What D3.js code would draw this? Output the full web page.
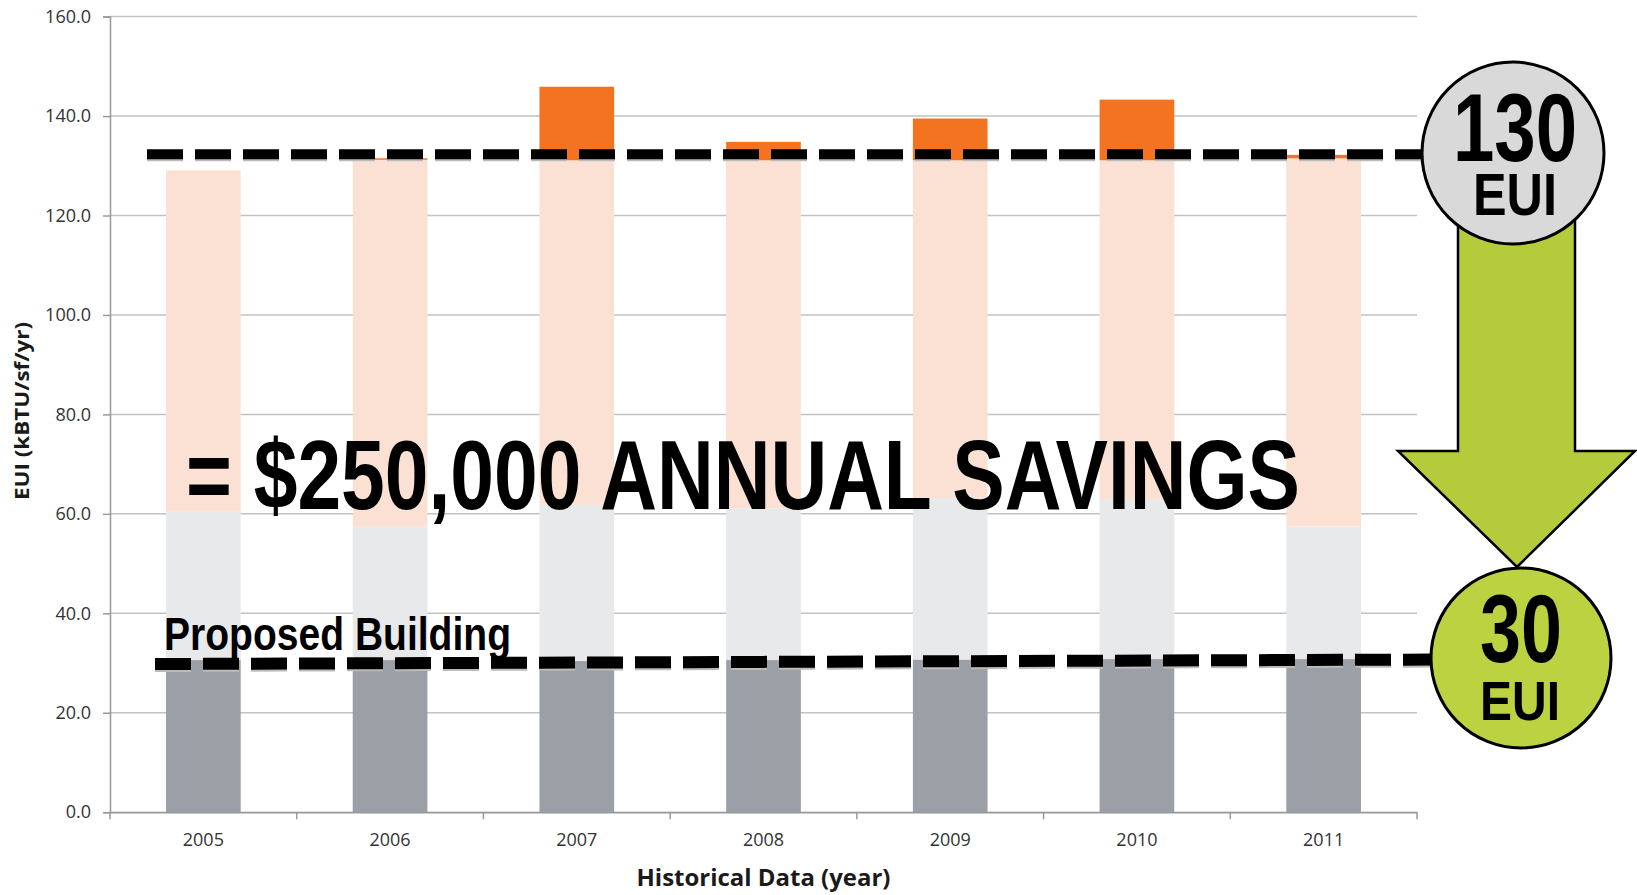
<!DOCTYPE html>
<html>
<head>
<meta charset="utf-8">
<script src="https://cdn.jsdelivr.net/npm/d3@7"></script>
<style>
  html, body { margin: 0; padding: 0; background: #fff; }
  svg { display: block; }
</style>
</head>
<body>
<div id="chart"></div>
<script>
// chart values (EUI, kBTU/sf/yr)
var years = ["2005", "2006", "2007", "2008", "2009", "2010", "2011"];
var baseLoad = [30.6, 30.6, 30.4, 30.6, 30.7, 30.8, 30.8];
var seasonal = [29.8, 26.8, 31.4, 30.5, 32.5, 32.2, 26.7];
var bulk = [68.7, 73.8, 69.3, 70.0, 67.9, 68.1, 74.0];
var overTarget = [0.0, 0.3, 14.8, 3.7, 8.4, 12.2, 0.7];
var yTicks = [0, 20, 40, 60, 80, 100, 120, 140, 160];

// annotation levels
var currentLine = [132.3, 132.3];
var proposedLine = [29.8, 30.7];

var keys = ["baseLoad", "seasonal", "bulk", "overTarget"];
var colors = {baseLoad: "#9ba0a7", seasonal: "#e8e9eb", bulk: "#fbe1d3", overTarget: "#f37321"};

var W = 1637, H = 895;
var margin = {top: 16.6, right: 220, bottom: 82.8, left: 110};

var rows = years.map(function (y, i) {
    return {year: y, baseLoad: baseLoad[i], seasonal: seasonal[i], bulk: bulk[i], overTarget: overTarget[i]};
});

var svg = d3.select("#chart").append("svg").attr("width", W).attr("height", H);

var x = d3.scaleBand().domain(years)
    .range([margin.left, W - margin.right])
    .paddingInner(0.6).paddingOuter(0.3);
var y = d3.scaleLinear().domain([0, 160]).range([H - margin.bottom, margin.top]);

// gridlines
svg.append("g").selectAll("line").data(yTicks).enter().append("line")
    .attr("x1", margin.left).attr("x2", W - margin.right)
    .attr("y1", function (d) { return y(d); }).attr("y2", function (d) { return y(d); })
    .attr("stroke", "#c2c2c2").attr("stroke-width", 1.5);

// stacked bars
var stacked = d3.stack().keys(keys)(rows);
svg.append("g").selectAll("g").data(stacked).enter().append("g")
    .attr("fill", function (d) { return colors[d.key]; })
    .selectAll("rect").data(function (d) { return d; }).enter().append("rect")
    .attr("x", function (d) { return x(d.data.year); })
    .attr("width", x.bandwidth())
    .attr("y", function (d) { return y(d[1]); })
    .attr("height", function (d) { return y(d[0]) - y(d[1]); });

// y axis
var yAxis = svg.append("g").attr("transform", "translate(" + margin.left + ",0)")
    .call(d3.axisLeft(y).tickValues(yTicks).tickFormat(d3.format(".1f")).tickSize(7).tickPadding(12));
yAxis.select(".domain").attr("stroke", "#999").attr("stroke-width", 1.5);
yAxis.selectAll(".tick line").attr("stroke", "#999").attr("stroke-width", 1.5);
yAxis.selectAll("text").attr("font-family", "'Open Sans', sans-serif").attr("font-size", 18).attr("fill", "#333");

// x axis: labels, plus ticks on the category boundaries
var xAxis = svg.append("g").attr("transform", "translate(0," + y(0) + ")")
    .call(d3.axisBottom(x).tickSize(0).tickPadding(21));
xAxis.select(".domain").attr("stroke", "#999").attr("stroke-width", 1.5);
xAxis.selectAll("text").attr("font-family", "'Open Sans', sans-serif").attr("font-size", 18).attr("fill", "#333");
var step = x.step(), x0 = x.range()[0];
xAxis.selectAll(".bound").data(d3.range(years.length + 1)).enter().append("line")
    .attr("class", "bound")
    .attr("x1", function (i) { return x0 + i * step; }).attr("x2", function (i) { return x0 + i * step; })
    .attr("y1", 0).attr("y2", 7)
    .attr("stroke", "#999").attr("stroke-width", 1.5);

// axis titles
svg.append("text")
    .attr("x", (margin.left + W - margin.right) / 2).attr("y", 886)
    .attr("text-anchor", "middle")
    .attr("font-family", "'Open Sans', sans-serif").attr("font-weight", 700).attr("font-size", 23)
    .attr("textLength", 254).attr("lengthAdjust", "spacingAndGlyphs")
    .attr("fill", "#1a1a1a")
    .text("Historical Data (year)");

svg.append("text")
    .attr("transform", "translate(29,411) rotate(-90)")
    .attr("text-anchor", "middle")
    .attr("font-family", "'Open Sans', sans-serif").attr("font-weight", 700).attr("font-size", 19)
    .attr("textLength", 178).attr("lengthAdjust", "spacingAndGlyphs")
    .attr("fill", "#1a1a1a")
    .text("EUI (kBTU/sf/yr)");

// dashed annotation lines
function dashed(x1, x2, v, width) {
    svg.append("line")
        .attr("x1", x1).attr("x2", x2).attr("y1", y(v[0]) + 2).attr("y2", y(v[1]) + 2)
        .attr("stroke", "#bbb").attr("stroke-width", width).attr("stroke-dasharray", "36,12");
    svg.append("line")
        .attr("x1", x1).attr("x2", x2).attr("y1", y(v[0])).attr("y2", y(v[1]))
        .attr("stroke", "#000").attr("stroke-width", width).attr("stroke-dasharray", "36,12");
}
dashed(147, 1424, currentLine, 10);
dashed(155, 1432, proposedLine, 12);

var narrow = "'Liberation Sans Narrow', 'Liberation Sans', Arial, sans-serif";
function bigText(str, xPos, yPos, size, len) {
    svg.append("text")
        .attr("x", xPos).attr("y", yPos)
        .attr("font-family", narrow).attr("font-weight", 700).attr("font-size", size)
        .attr("textLength", len).attr("lengthAdjust", "spacingAndGlyphs")
        .attr("fill", "#000")
        .text(str);
}
bigText("= $250,000 ANNUAL SAVINGS", 186, 509, 98, 1114);
bigText("Proposed Building", 164, 650, 46, 347);

// down arrow
var arrow = [[1458, 200], [1575, 200], [1575, 451], [1635, 451], [1517, 567],
             [1398, 451], [1458, 451]];
svg.append("path")
    .attr("d", d3.line()(arrow) + "Z")
    .attr("fill", "#b5cb3b").attr("stroke", "#000").attr("stroke-width", 2.5)
    .attr("stroke-linejoin", "miter");

// circles
svg.append("circle").attr("cx", 1513).attr("cy", 153).attr("r", 91)
    .attr("fill", "#d9d9d9").attr("stroke", "#000").attr("stroke-width", 3);
svg.append("circle").attr("cx", 1521).attr("cy", 658).attr("r", 90)
    .attr("fill", "#bdd241").attr("stroke", "#000").attr("stroke-width", 3);

bigText("130", 1453, 161, 97, 124);
bigText("EUI", 1473, 215, 60, 84);
bigText("30", 1480, 662, 97, 82);
bigText("EUI", 1480, 720, 56, 80);
</script>
</body>
</html>
